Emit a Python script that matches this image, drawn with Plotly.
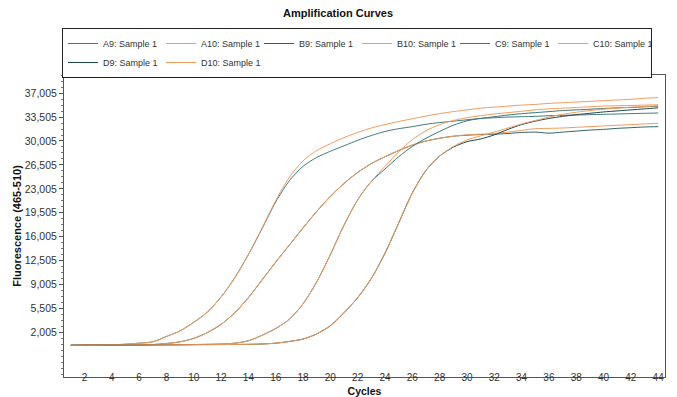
import plotly.graph_objects as go

cycles = list(range(1, 45))

a9 = [120, 140, 160, 200, 300, 450, 650, 1430, 2250, 3500, 5000, 7200, 10000, 13400, 17200,
      21100, 24200, 26300, 27600, 28500, 29300, 30100, 30800, 31400, 31800, 32100, 32450, 32700,
      32900, 33100, 33300, 33400, 33500, 33550, 33600, 33700, 33750, 33800, 33850, 33900, 33950,
      34000, 34050, 34100]
a10 = [120, 140, 160, 200, 300, 450, 650, 1430, 2250, 3500, 5000, 7200, 10000, 13400, 17300,
       21300, 24700, 27100, 28600, 29600, 30500, 31250, 31900, 32400, 32850, 33250, 33650, 34000,
       34300, 34550, 34800, 34950, 35100, 35250, 35350, 35500, 35600, 35700, 35800, 35900, 36000,
       36100, 36250, 36350]
b9 = [150, 160, 170, 180, 190, 200, 250, 400, 650, 1150, 2000, 3200, 4900, 7100, 9700, 12300,
      14800, 17300, 19700, 21900, 23800, 25400, 26700, 27700, 28600, 29400, 30000, 30400, 30700,
      30850, 30950, 31000, 31100, 31250, 31300, 31150, 31300, 31450, 31600, 31700, 31850, 31950,
      32050, 32100]
b10 = [150, 160, 170, 180, 190, 200, 250, 400, 650, 1150, 2000, 3200, 4900, 7100, 9700, 12300,
       14800, 17300, 19700, 21900, 23800, 25400, 26700, 27700, 28600, 29400, 30000, 30400, 30700,
       30900, 31000, 31100, 31300, 31550, 31800, 31850, 31900, 32000, 32100, 32200, 32300, 32400,
       32500, 32600]
c9 = [150, 160, 170, 180, 190, 200, 210, 220, 230, 250, 280, 330, 450, 800, 1600, 2600, 3950,
      6200, 9400, 13400, 17700, 21400, 24100, 25900, 27700, 29200, 30400, 31400, 32300, 32950,
      33300, 33550, 33800, 34000, 34150, 34300, 34450, 34550, 34650, 34750, 34850, 34900, 35000,
      35080]
c10 = [150, 160, 170, 180, 190, 200, 210, 220, 230, 250, 280, 330, 450, 800, 1600, 2600, 3950,
       6200, 9400, 13400, 17700, 21400, 24100, 26300, 28400, 30200, 31500, 32400, 33000, 33400,
       33700, 33950, 34150, 34350, 34550, 34700, 34800, 34900, 35000, 35100, 35150, 35200, 35250,
       35300]
d9 = [150, 160, 170, 180, 190, 200, 200, 210, 220, 230, 240, 250, 260, 280, 330, 450, 700, 1050,
      1800, 3000, 4900, 7100, 9900, 13600, 18000, 22400, 25700, 27800, 29100, 29900, 30300, 30900,
      31700, 32400, 32900, 33300, 33600, 33850, 34050, 34250, 34400, 34550, 34700, 34850]
d10 = [150, 160, 170, 180, 190, 200, 200, 210, 220, 230, 240, 250, 260, 280, 330, 450, 700, 1050,
       1800, 3000, 4900, 7100, 9900, 13600, 18000, 22400, 25700, 27800, 29200, 30150, 30750, 31300,
       31900, 32500, 33000, 33500, 33900, 34200, 34450, 34650, 34800, 34950, 35050, 35150]

series_names = ["A9: Sample 1", "A10: Sample 1", "B9: Sample 1", "B10: Sample 1",
                "C9: Sample 1", "C10: Sample 1", "D9: Sample 1", "D10: Sample 1"]
series_values = [a9, a10, b9, b10, c9, c10, d9, d10]
series_colors = ["#3E7C7C", "#F29B5B", "#2F6464", "#F29B5B",
                 "#3A7575", "#F29B5B", "#1E4848", "#F29B5B"]

y_tick_values = [2005, 5505, 9005, 12505, 16005, 19505, 23005, 26505, 30005, 33505, 37005]
x_tick_values = list(range(2, 45, 2))

fig = go.Figure()
for name, vals, col in zip(series_names, series_values, series_colors):
    fig.add_trace(go.Scatter(x=cycles, y=vals, mode="lines", name=name,
                             line=dict(color=col, width=1, shape="spline", smoothing=0.8)))

# The page body has an 8px default margin, so the figure is sized 8px smaller
# and its margins are shifted to land the plot where the reference has it.
W, H = 669, 389
font_family = "Liberation Sans, Arial, sans-serif"
fig.update_layout(
    width=W, height=H,
    margin=dict(l=56, r=12, t=67, b=20, autoexpand=False),
    paper_bgcolor="white", plot_bgcolor="white",
    font=dict(family=font_family, size=10, color="#333333"),
    title=dict(text="<b>Amplification Curves</b>", x=(338 - 8) / W, xref="container",
               xanchor="center", y=1 - 5 / H, yref="container", yanchor="middle",
               font=dict(size=11, color="#111111")),
    showlegend=True,
    legend=dict(orientation="h", x=(357 - 64) / 601, xanchor="center",
                y=1 + (67 - 20) / 302, yanchor="top",
                bordercolor="#222222", borderwidth=1, bgcolor="white",
                font=dict(size=9, color="#333333"),
                entrywidth=53, entrywidthmode="pixels", itemwidth=30,
                tracegroupgap=0),
    xaxis=dict(range=[0.5, 44.5], tickvals=x_tick_values, showgrid=False, zeroline=False,
               showline=True, linecolor="#555555", linewidth=1, mirror=True,
               ticks="", ticklabelstandoff=-9, tickfont=dict(size=10, color="#333333"),
               title=dict(text="<b>Cycles</b>", standoff=7,
                          font=dict(size=10.5, color="#111111"))),
    yaxis=dict(range=[-4495, 39650], tickvals=y_tick_values, tickformat=",d",
               showgrid=False, zeroline=False, showline=True, linecolor="#555555",
               linewidth=1, mirror=True, ticks="outside", ticklen=4, tickcolor="#555555",
               minor=dict(dtick=875, tick0=2005, ticks="outside", ticklen=2,
                          tickcolor="#777777"),
               tickfont=dict(size=10.5, color="#333333"),
               title=dict(text="<b>Fluorescence (465-510)</b>", standoff=0,
                          font=dict(size=11, color="#111111"))),
)

fig.write_html("out.html")
